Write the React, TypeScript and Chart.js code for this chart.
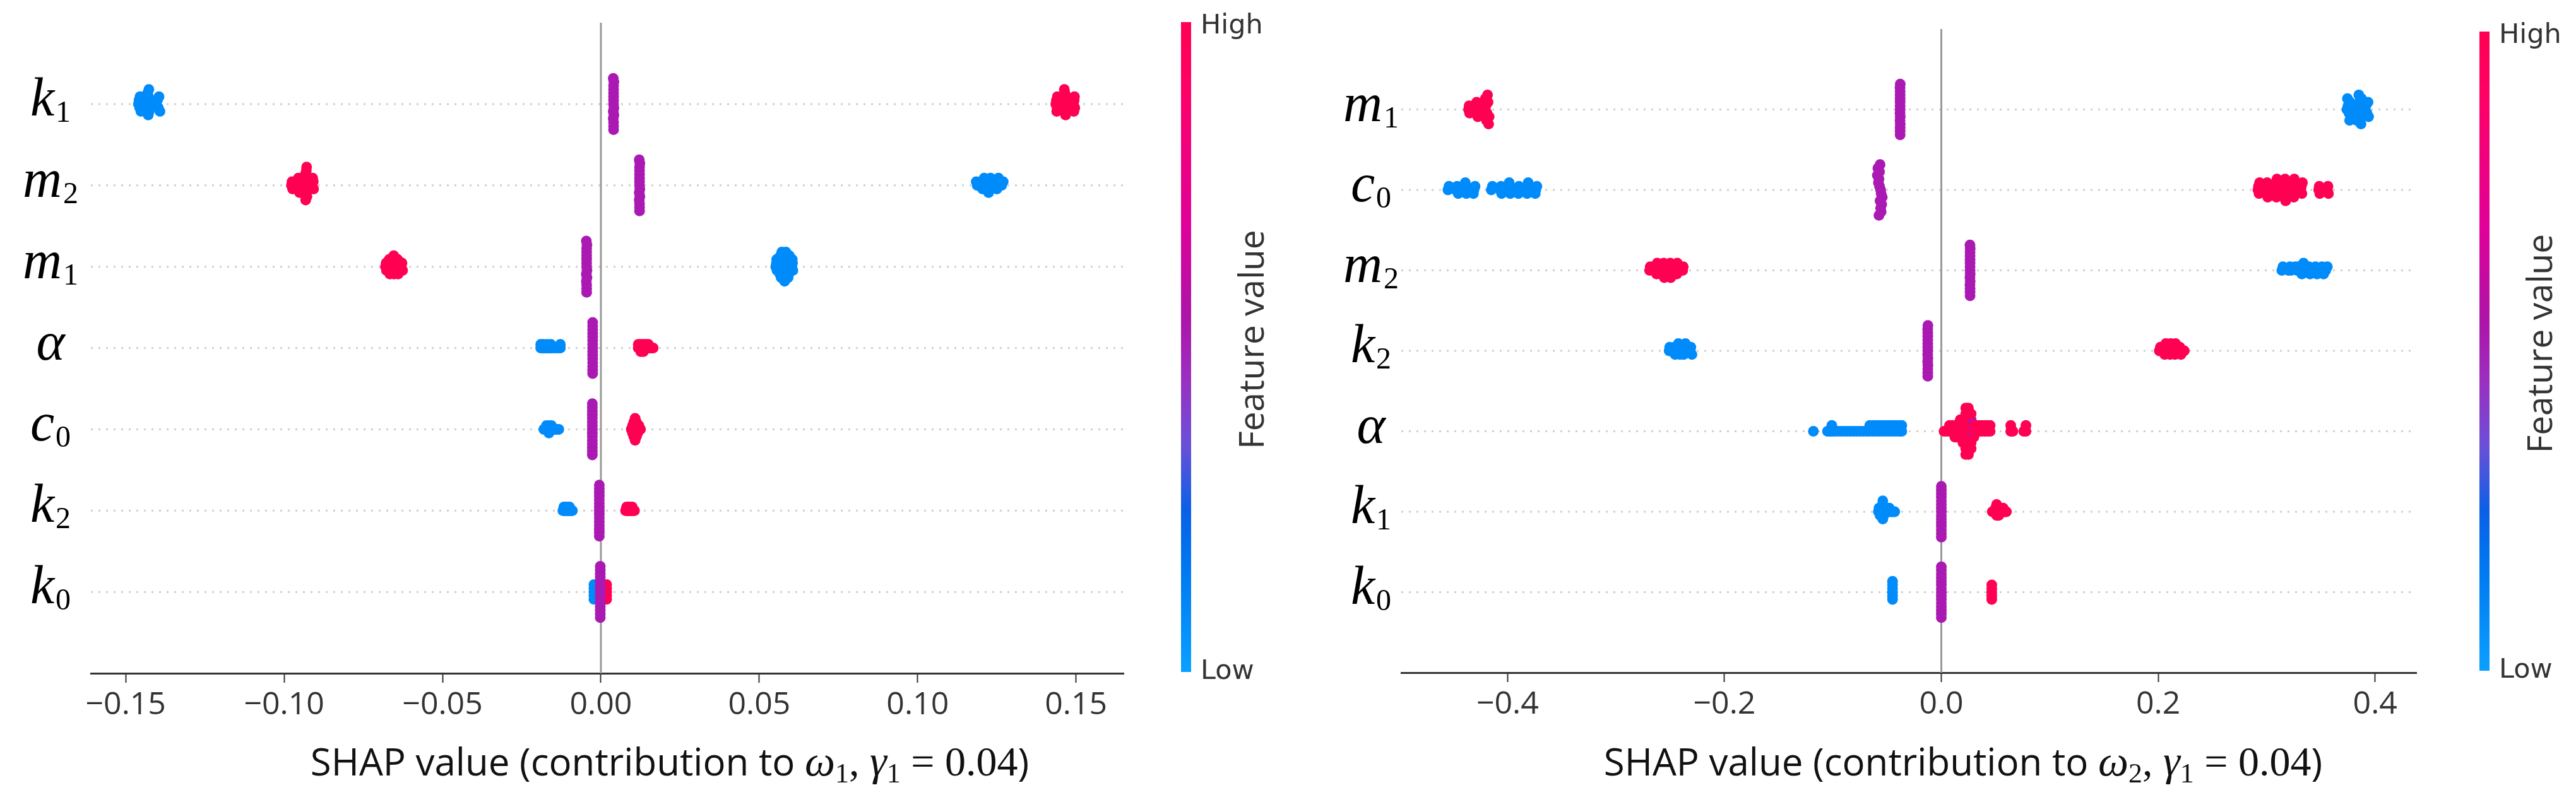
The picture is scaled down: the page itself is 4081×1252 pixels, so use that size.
import React, { useEffect, useRef } from 'react';
import { Chart, registerables } from 'chart.js';

Chart.register(...registerables);

// ---- data (top row first) ----
const LEFT_FEATURES = ['k_1', 'm_2', 'm_1', 'α', 'c_0', 'k_2', 'k_0'];
const LEFT_TICKS = [-0.15, -0.1, -0.05, 0, 0.05, 0.1, 0.15];
const LEFT_TICK_LABELS = ['\u22120.15', '\u22120.10', '\u22120.05', '0.00', '0.05', '0.10', '0.15'];
const LEFT_TITLE: [string, string][] = [
  ['SHAP value (contribution to ', 'sans'], ['ω', 'it'], ['1', 'sub'], [', ', 'math'],
  ['γ', 'it'], ['1', 'sub'], [' = 0.04', 'math'], [')', 'sans'],
];

const LEFT_LOW = [
  [-0.1460, -0.1458, -0.1456, -0.1455, -0.1452, -0.1435, -0.1432, -0.1430, -0.1428, -0.1426, -0.1431, -0.1429, -0.1427, -0.1404, -0.1400, -0.1397, -0.1395, -0.1392],
  [0.1188, 0.1185, 0.1195, 0.1200, 0.1205, 0.1210, 0.1218, 0.1222, 0.1226, 0.1230, 0.1224, 0.1240, 0.1245, 0.1250, 0.1255, 0.1265, 0.1270],
  [0.0552, 0.0554, 0.0556, 0.0555, 0.0564, 0.0566, 0.0568, 0.0570, 0.0565, 0.0567, 0.0569, 0.0571, 0.0577, 0.0579, 0.0581, 0.0583, 0.0578, 0.0580, 0.0582, 0.0584, 0.0580, 0.0590, 0.0592, 0.0594, 0.0596, 0.0593, 0.0595, 0.0591, 0.0603, 0.0605, 0.0606, 0.0604],
  [-0.0190, -0.0190, -0.0186, -0.0182, -0.0182, -0.0178, -0.0174, -0.0170, -0.0170, -0.0166, -0.0162, -0.0158, -0.0158, -0.0150, -0.0142, -0.0135, -0.0128, -0.0128],
  [-0.0180, -0.0176, -0.0172, -0.0172, -0.0168, -0.0164, -0.0164, -0.0164, -0.0160, -0.0156, -0.0156, -0.0152, -0.0148, -0.0144, -0.0140, -0.0136, -0.0133],
  [-0.0120, -0.0117, -0.0117, -0.0114, -0.0111, -0.0111, -0.0108, -0.0105, -0.0105, -0.0102, -0.0099, -0.0099, -0.0096, -0.0093, -0.0090],
  [-0.0022, -0.0022, -0.0022, -0.0022, -0.0022],
];
const LEFT_MID = [
  [0.0040, 0.0040, 0.0041, 0.0040, 0.0039, 0.0040, 0.0041, 0.0040, 0.0039, 0.0040, 0.0040, 0.0041, 0.0040, 0.0039, 0.0040],
  [0.0122, 0.0122, 0.0123, 0.0122, 0.0121, 0.0122, 0.0123, 0.0122, 0.0121, 0.0122, 0.0122, 0.0123, 0.0122, 0.0121, 0.0122],
  [-0.0045, -0.0045, -0.0044, -0.0045, -0.0046, -0.0045, -0.0044, -0.0045, -0.0046, -0.0045, -0.0045, -0.0044, -0.0045, -0.0046, -0.0045],
  [-0.0026, -0.0026, -0.0026, -0.0026, -0.0026, -0.0026, -0.0026, -0.0026, -0.0026, -0.0026, -0.0026, -0.0026, -0.0026, -0.0026, -0.0026],
  [-0.0027, -0.0027, -0.0027, -0.0027, -0.0027, -0.0027, -0.0027, -0.0027, -0.0027, -0.0027, -0.0027, -0.0027, -0.0027, -0.0027, -0.0027],
  [-0.0005, -0.0005, -0.0005, -0.0005, -0.0005, -0.0005, -0.0005, -0.0005, -0.0005, -0.0005, -0.0005, -0.0005, -0.0005, -0.0005, -0.0005],
  [-0.0002, -0.0002, -0.0002, -0.0002, -0.0002, -0.0002, -0.0002, -0.0002, -0.0002, -0.0002, -0.0002, -0.0002, -0.0002, -0.0002, -0.0002],
];
const LEFT_HIGH = [
  [0.1436, 0.1438, 0.1440, 0.1441, 0.1439, 0.1462, 0.1464, 0.1466, 0.1468, 0.1470, 0.1465, 0.1467, 0.1463, 0.1492, 0.1494, 0.1496, 0.1495, 0.1493],
  [-0.0977, -0.0975, -0.0973, -0.0956, -0.0954, -0.0952, -0.0955, -0.0951, -0.0934, -0.0932, -0.0930, -0.0929, -0.0931, -0.0933, -0.0928, -0.0930, -0.0932, -0.0929, -0.0911, -0.0908, -0.0907, -0.0910],
  [-0.0680, -0.0678, -0.0677, -0.0669, -0.0667, -0.0665, -0.0668, -0.0666, -0.0656, -0.0654, -0.0652, -0.0655, -0.0653, -0.0654, -0.0643, -0.0641, -0.0639, -0.0642, -0.0640, -0.0630, -0.0628, -0.0626],
  [0.0118, 0.0118, 0.0122, 0.0126, 0.0126, 0.0126, 0.0130, 0.0134, 0.0134, 0.0134, 0.0138, 0.0142, 0.0142, 0.0146, 0.0150, 0.0150, 0.0155, 0.0160, 0.0165],
  [0.0096, 0.0100, 0.0100, 0.0100, 0.0104, 0.0104, 0.0104, 0.0104, 0.0104, 0.0108, 0.0108, 0.0108, 0.0108, 0.0108, 0.0108, 0.0108, 0.0112, 0.0112, 0.0112, 0.0112, 0.0112, 0.0116, 0.0116, 0.0116, 0.0120, 0.0120, 0.0125],
  [0.0078, 0.0081, 0.0081, 0.0084, 0.0087, 0.0087, 0.0090, 0.0093, 0.0093, 0.0096, 0.0099, 0.0099, 0.0102, 0.0106],
  [0.0018, 0.0018, 0.0018, 0.0018, 0.0018],
];

const RIGHT_FEATURES = ['m_1', 'c_0', 'm_2', 'k_2', 'α', 'k_1', 'k_0'];
const RIGHT_TICKS = [-0.4, -0.2, 0, 0.2, 0.4];
const RIGHT_TICK_LABELS = ['\u22120.4', '\u22120.2', '0.0', '0.2', '0.4'];
const RIGHT_TITLE: [string, string][] = [
  ['SHAP value (contribution to ', 'sans'], ['ω', 'it'], ['2', 'sub'], [', ', 'math'],
  ['γ', 'it'], ['1', 'sub'], [' = 0.04', 'math'], [')', 'sans'],
];

const RIGHT_LOW = [
  [0.3740, 0.3750, 0.3760, 0.3770, 0.3780, 0.3745, 0.3765, 0.3825, 0.3835, 0.3845, 0.3855, 0.3865, 0.3875, 0.3830, 0.3850, 0.3870, 0.3905, 0.3915, 0.3925, 0.3935, 0.3940],
  [-0.4550, -0.4540, -0.4480, -0.4465, -0.4455, -0.4395, -0.4385, -0.4380, -0.4390, -0.4310, -0.4300, -0.4315, -0.4150, -0.4140, -0.4070, -0.4060, -0.4055, -0.3990, -0.3980, -0.3975, -0.3985, -0.3905, -0.3895, -0.3900, -0.3825, -0.3815, -0.3820, -0.3810, -0.3740, -0.3730, -0.3745],
  [0.3140, 0.3150, 0.3200, 0.3215, 0.3225, 0.3265, 0.3280, 0.3290, 0.3325, 0.3340, 0.3355, 0.3390, 0.3400, 0.3410, 0.3450, 0.3465, 0.3480, 0.3510, 0.3525, 0.3545, 0.3560],
  [-0.2510, -0.2505, -0.2465, -0.2460, -0.2455, -0.2420, -0.2415, -0.2410, -0.2425, -0.2370, -0.2365, -0.2375, -0.2360, -0.2320, -0.2310, -0.2300],
  [-0.1180, -0.1050, -0.1030, -0.1010, -0.1010, -0.0990, -0.0960, -0.0930, -0.0900, -0.0870, -0.0840, -0.0810, -0.0780, -0.0750, -0.0720, -0.0690, -0.0660, -0.0660, -0.0630, -0.0630, -0.0600, -0.0600, -0.0570, -0.0570, -0.0540, -0.0540, -0.0510, -0.0510, -0.0480, -0.0480, -0.0450, -0.0450, -0.0420, -0.0420, -0.0390, -0.0390, -0.0365, -0.0365],
  [-0.0580, -0.0575, -0.0570, -0.0570, -0.0565, -0.0560, -0.0560, -0.0560, -0.0550, -0.0550, -0.0550, -0.0540, -0.0540, -0.0540, -0.0530, -0.0530, -0.0530, -0.0520, -0.0520, -0.0510, -0.0510, -0.0500, -0.0490, -0.0480, -0.0470, -0.0460, -0.0450, -0.0440, -0.0430],
  [-0.0450, -0.0450, -0.0450, -0.0450, -0.0450, -0.0450],
];
const RIGHT_MID = [
  [-0.0380, -0.0380, -0.0381, -0.0380, -0.0379, -0.0380, -0.0381, -0.0380, -0.0379, -0.0380, -0.0380, -0.0381, -0.0380, -0.0379, -0.0380],
  [-0.0560, -0.0570, -0.0555, -0.0580, -0.0545, -0.0575, -0.0565, -0.0590, -0.0550, -0.0570, -0.0560, -0.0585, -0.0555, -0.0565, -0.0575],
  [0.0265, 0.0265, 0.0266, 0.0265, 0.0264, 0.0265, 0.0266, 0.0265, 0.0264, 0.0265, 0.0265, 0.0266, 0.0265, 0.0264, 0.0265],
  [-0.0125, -0.0125, -0.0126, -0.0125, -0.0124, -0.0125, -0.0126, -0.0125, -0.0124, -0.0125, -0.0125, -0.0126, -0.0125, -0.0124, -0.0125],
  [0.0225, 0.0225, 0.0225, 0.0225, 0.0250, 0.0250, 0.0250, 0.0250, 0.0250, 0.0275, 0.0275, 0.0275, 0.0275, 0.0290, 0.0290],
  [0.0000, 0.0000, 0.0000, 0.0000, 0.0000, 0.0000, 0.0000, 0.0000, 0.0000, 0.0000, 0.0000, 0.0000, 0.0000, 0.0000, 0.0000],
  [0.0000, 0.0000, 0.0000, 0.0000, 0.0000, 0.0000, 0.0000, 0.0000, 0.0000, 0.0000, 0.0000, 0.0000, 0.0000, 0.0000, 0.0000],
];
const RIGHT_HIGH = [
  [-0.4360, -0.4355, -0.4350, -0.4290, -0.4280, -0.4270, -0.4285, -0.4275, -0.4210, -0.4200, -0.4190, -0.4180, -0.4170, -0.4205, -0.4195, -0.4185, -0.4175],
  [0.2920, 0.2925, 0.2930, 0.2935, 0.2990, 0.2995, 0.3000, 0.3005, 0.3010, 0.3070, 0.3075, 0.3080, 0.3085, 0.3090, 0.3095, 0.3145, 0.3150, 0.3155, 0.3160, 0.3165, 0.3170, 0.3175, 0.3230, 0.3235, 0.3240, 0.3245, 0.3250, 0.3255, 0.3315, 0.3320, 0.3325, 0.3330, 0.3480, 0.3485, 0.3490, 0.3560, 0.3565, 0.3570],
  [-0.2690, -0.2685, -0.2635, -0.2630, -0.2625, -0.2620, -0.2575, -0.2570, -0.2565, -0.2560, -0.2555, -0.2515, -0.2510, -0.2505, -0.2500, -0.2495, -0.2450, -0.2445, -0.2440, -0.2435, -0.2385, -0.2380],
  [0.2010, 0.2020, 0.2050, 0.2055, 0.2060, 0.2070, 0.2100, 0.2105, 0.2110, 0.2115, 0.2145, 0.2150, 0.2155, 0.2160, 0.2190, 0.2200, 0.2210, 0.2240],
  [0.0025, 0.0050, 0.0075, 0.0075, 0.0100, 0.0100, 0.0125, 0.0125, 0.0125, 0.0150, 0.0150, 0.0150, 0.0175, 0.0175, 0.0175, 0.0175, 0.0200, 0.0200, 0.0200, 0.0200, 0.0200, 0.0225, 0.0225, 0.0225, 0.0225, 0.0225, 0.0250, 0.0250, 0.0250, 0.0250, 0.0275, 0.0275, 0.0275, 0.0300, 0.0300, 0.0300, 0.0325, 0.0325, 0.0350, 0.0350, 0.0375, 0.0375, 0.0400, 0.0400, 0.0425, 0.0425, 0.0450, 0.0450, 0.0640, 0.0640, 0.0660, 0.0760, 0.0780, 0.0780],
  [0.0470, 0.0480, 0.0490, 0.0500, 0.0500, 0.0510, 0.0510, 0.0520, 0.0520, 0.0520, 0.0530, 0.0530, 0.0530, 0.0540, 0.0540, 0.0550, 0.0550, 0.0560, 0.0570, 0.0580, 0.0590, 0.0600],
  [0.0465, 0.0465, 0.0465, 0.0465, 0.0465],
];

const LOW_COLOR = '#008bfb';
const MID_COLOR = '#aa1ab2';
const HIGH_COLOR = '#ff0052';
const CBAR_STOPS: [number, string][] = [
  [0, '#0aa0ff'], [0.16, '#0078f0'], [0.25, '#0a60e6'], [0.35, '#6a50d8'], [0.45, '#9a30c0'],
  [0.55, '#ad14a8'], [0.69, '#e0009a'], [0.9, '#ff0066'], [1, '#ff0052'],
];

type Panel = {
  features: string[]; low: number[][]; mid: number[][]; high: number[][];
  ticks: number[]; tickLabels: string[]; title: [string, string][];
  xMin: number; xMax: number; width: number;
  pad: { left: number; top: number; right: number }; xAxisHeight: number;
  labelX: number; titleX: number; bar: { x: number; top: number; bottom: number }; fvX: number;
  midOnTop: string[];
};

const PANELS: Panel[] = [
  {
    features: LEFT_FEATURES, low: LEFT_LOW, mid: LEFT_MID, high: LEFT_HIGH,
    ticks: LEFT_TICKS, tickLabels: LEFT_TICK_LABELS, title: LEFT_TITLE,
    xMin: -0.161, xMax: 0.165, width: 2040,
    pad: { left: 144, top: 36, right: 260 }, xAxisHeight: 185,
    labelX: 80, titleX: 1061, bar: { x: 1871, top: 35, bottom: 1065 }, fvX: 1986,
    midOnTop: [],
  },
  {
    features: RIGHT_FEATURES, low: RIGHT_LOW, mid: RIGHT_MID, high: RIGHT_HIGH,
    ticks: RIGHT_TICKS, tickLabels: RIGHT_TICK_LABELS, title: RIGHT_TITLE,
    xMin: -0.498, xMax: 0.438, width: 2041,
    pad: { left: 180, top: 46, right: 253 }, xAxisHeight: 186,
    labelX: 132, titleX: 1070, bar: { x: 1888, top: 50, bottom: 1063 }, fvX: 1987,
    midOnTop: ['α'],
  },
];

// vertical offsets like shap's beeswarm: 100 bins per row, alternate layers up/down
function beeswarm(xs: number[]): number[] {
  const lo = Math.min(...xs);
  const hi = Math.max(...xs);
  const quant = xs.map((v) => Math.round((100 * (v - lo)) / (hi - lo + 1e-8)));
  const order = xs.map((_, i) => i).sort((a, b) => quant[a] - quant[b] || a - b);
  const ys = new Array(xs.length).fill(0);
  let layer = 0;
  let last = -1;
  for (const i of order) {
    if (quant[i] !== last) layer = 0;
    ys[i] = Math.ceil(layer / 2) * ((layer % 2) * 2 - 1);
    layer++;
    last = quant[i];
  }
  const m = Math.max(...ys) + 1;
  return ys.map((y) => (y * 0.9 * 0.4) / m);
}

function buildDatasets(p: Panel) {
  const sets: any[] = [];
  const n = p.features.length;
  p.features.forEach((name, r) => {
    const rowY = n - 1 - r;
    const groups = [
      { vals: p.mid[r], color: MID_COLOR },
      { vals: p.low[r], color: LOW_COLOR },
      { vals: p.high[r], color: HIGH_COLOR },
    ];
    const all = groups.flatMap((g) => g.vals);
    const offs = beeswarm(all);
    let k = 0;
    const made = groups.map((g) => {
      const data = g.vals.map((v) => ({ x: v, y: rowY + offs[k++] }));
      return {
        data,
        backgroundColor: g.color,
        pointRadius: 8.5,
        pointBorderWidth: 0,
        pointHoverRadius: 8.5,
      };
    });
    if (p.midOnTop.includes(name)) sets.push(made[1], made[2], made[0]);
    else sets.push(made[0], made[1], made[2]);
  });
  return sets;
}

function decor(p: Panel) {
  return {
    id: 'shapDecor',
    beforeDatasetsDraw(chart: any) {
      const { ctx, chartArea: a, scales } = chart;
      const n = p.features.length;
      ctx.save();
      ctx.strokeStyle = '#d0d0d0';
      ctx.lineWidth = 3;
      ctx.setLineDash([3, 9]);
      for (let i = 0; i < n; i++) {
        const py = scales.y.getPixelForValue(i);
        ctx.beginPath();
        ctx.moveTo(a.left, py);
        ctx.lineTo(a.right, py);
        ctx.stroke();
      }
      ctx.setLineDash([]);
      ctx.strokeStyle = '#999999';
      const zx = scales.x.getPixelForValue(0);
      ctx.beginPath();
      ctx.moveTo(zx, a.top);
      ctx.lineTo(zx, a.bottom);
      ctx.stroke();
      ctx.restore();
    },
    afterDraw(chart: any) {
      const { ctx, scales } = chart;
      const n = p.features.length;
      ctx.save();
      ctx.fillStyle = '#000';
      ctx.textBaseline = 'alphabetic';
      ctx.textAlign = 'left';

      // feature names, italic with subscript
      p.features.forEach((name, r) => {
        const py = scales.y.getPixelForValue(n - 1 - r);
        const [base, sub = ''] = name.split('_');
        ctx.font = 'italic 86px "Liberation Serif"';
        const wb = ctx.measureText(base).width;
        ctx.font = '48px "Liberation Serif"';
        const ws = sub ? ctx.measureText(sub).width + 2 : 0;
        const x0 = p.labelX - (wb + ws) / 2;
        ctx.font = 'italic 86px "Liberation Serif"';
        ctx.fillText(base, x0, py + 18);
        if (sub) {
          ctx.font = '48px "Liberation Serif"';
          ctx.fillText(sub, x0 + wb + 2, py + 28);
        }
      });

      // axis title, mixed text and math
      const fonts: Record<string, string> = {
        sans: '60px "Open Sans"',
        it: 'italic 68px "Liberation Serif"',
        math: '66px "Liberation Serif"',
        sub: '44px "Liberation Serif"',
      };
      const widths = p.title.map(([t, f]) => {
        ctx.font = fonts[f];
        return ctx.measureText(t).width;
      });
      let cx = p.titleX - widths.reduce((s, w) => s + w, 0) / 2;
      const base = 1229;
      ctx.fillStyle = '#111';
      p.title.forEach(([t, f], i) => {
        ctx.font = fonts[f];
        ctx.fillText(t, cx, f === 'sub' ? base + 11 : base);
        cx += widths[i];
      });

      // colour bar
      const b = p.bar;
      const g = ctx.createLinearGradient(0, b.bottom, 0, b.top);
      CBAR_STOPS.forEach(([o, c]) => g.addColorStop(o, c));
      ctx.fillStyle = g;
      ctx.fillRect(b.x, b.top, 16, b.bottom - b.top);
      ctx.fillStyle = '#333';
      ctx.font = '43px "DejaVu Sans"';
      ctx.textBaseline = 'middle';
      ctx.fillText('High', b.x + 31, b.top + 7);
      ctx.fillText('Low', b.x + 31, b.bottom);
      ctx.translate(p.fvX, (b.top + b.bottom) / 2 - 12);
      ctx.rotate(-Math.PI / 2);
      ctx.textAlign = 'center';
      ctx.font = '55px "Open Sans"';
      ctx.fillText('Feature value', 0, 0);
      ctx.restore();
    },
  };
}

function ShapPanel({ p }: { p: Panel }) {
  const canvasRef = useRef<HTMLCanvasElement>(null);

  useEffect(() => {
    if (!canvasRef.current) return;
    const chart = new Chart(canvasRef.current, {
      type: 'scatter',
      data: { datasets: buildDatasets(p) },
      options: {
        animation: false,
        responsive: true,
        maintainAspectRatio: false,
        devicePixelRatio: 1,
        layout: { padding: { left: p.pad.left, top: p.pad.top, right: p.pad.right, bottom: 0 } },
        plugins: { legend: { display: false }, tooltip: { enabled: false } },
        scales: {
          x: {
            type: 'linear',
            min: p.xMin,
            max: p.xMax,
            afterBuildTicks: (s: any) => {
              s.ticks = p.ticks.map((v) => ({ value: v }));
            },
            afterFit: (s: any) => {
              s.height = p.xAxisHeight;
            },
            border: { display: true, color: '#333', width: 3 },
            grid: { display: true, drawOnChartArea: false, drawTicks: true, tickLength: 15, tickColor: '#333', tickWidth: 2 },
            ticks: {
              autoSkip: false,
              maxRotation: 0,
              padding: 6,
              color: '#333',
              font: { family: 'Open Sans', size: 50 },
              callback: (_v: any, i: number) => p.tickLabels[i],
            },
          },
          y: { type: 'linear', min: -1, max: 7, display: false },
        },
      },
      plugins: [decor(p)],
    } as any);
    return () => chart.destroy();
  }, [p]);

  return (
    <div style={{ position: 'relative', width: p.width, height: 1252 }}>
      <canvas ref={canvasRef} />
    </div>
  );
}

export default function App() {
  return (
    <div style={{ position: 'absolute', left: 0, top: 0, width: 4081, height: 1252, display: 'flex', background: '#fff' }}>
      {PANELS.map((p, i) => (
        <ShapPanel key={i} p={p} />
      ))}
    </div>
  );
}
